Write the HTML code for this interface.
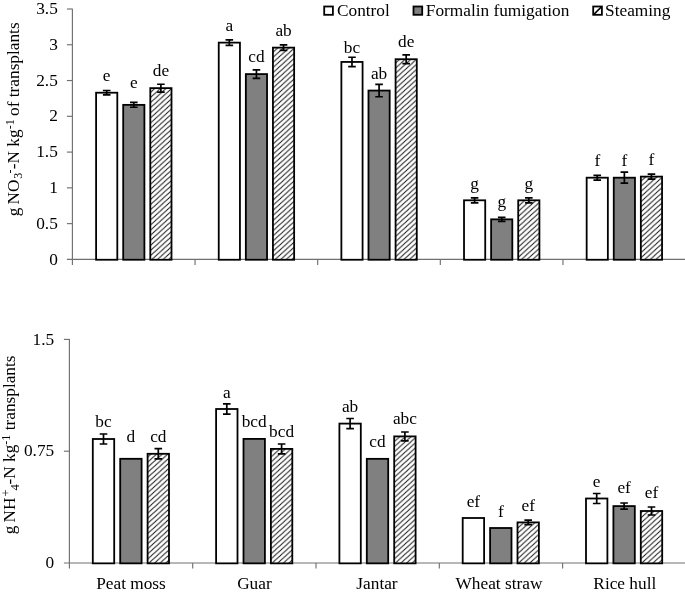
<!DOCTYPE html>
<html lang="en"><head><meta charset="utf-8"><title>Chart</title>
<style>html,body{margin:0;padding:0;background:#fff;overflow:hidden}svg{display:block;will-change:transform;opacity:.999}text{font-family:"Liberation Serif","Times New Roman",serif;font-size:17.3px;fill:#000}.ax{stroke:#707070;stroke-width:1.15;fill:none}.bar{stroke:#000;stroke-width:1.8}.eb{stroke:#000;stroke-width:1.7;fill:none}</style></head><body>
<svg width="685" height="594" viewBox="0 0 685 594">
<defs><pattern id="hatch" patternUnits="userSpaceOnUse" width="5.6" height="5.1"><rect width="5.6" height="5.1" fill="#fff"/><path d="M-5.6 10.2L11.2 -5.1M-5.6 5.1L5.6 -5.1M0 10.2L11.2 0" stroke="#111" stroke-width="1.0"/></pattern></defs>
<rect width="685" height="594" fill="#fff"/>
<path class="ax" d="M72.4 8.7V264.9"/>
<path class="ax" d="M66.9 259.4H685"/>
<text x="57.8" y="264.50" text-anchor="end">0</text>
<path class="ax" d="M66.9 223.63H72.4"/>
<text x="57.8" y="228.73" text-anchor="end">0.5</text>
<path class="ax" d="M66.9 187.86H72.4"/>
<text x="57.8" y="192.96" text-anchor="end">1</text>
<path class="ax" d="M66.9 152.09H72.4"/>
<text x="57.8" y="157.19" text-anchor="end">1.5</text>
<path class="ax" d="M66.9 116.31H72.4"/>
<text x="57.8" y="121.41" text-anchor="end">2</text>
<path class="ax" d="M66.9 80.54H72.4"/>
<text x="57.8" y="85.64" text-anchor="end">2.5</text>
<path class="ax" d="M66.9 44.77H72.4"/>
<text x="57.8" y="49.87" text-anchor="end">3</text>
<path class="ax" d="M66.9 9.00H72.4"/>
<text x="57.8" y="14.10" text-anchor="end">3.5</text>
<path class="ax" d="M195.04 259.4V264.9"/>
<path class="ax" d="M317.68 259.4V264.9"/>
<path class="ax" d="M440.32 259.4V264.9"/>
<path class="ax" d="M562.96 259.4V264.9"/>
<rect class="bar" x="96.10" y="92.71" width="21.2" height="167.04" fill="#fff"/>
<path class="eb" d="M106.70 90.51V94.91M102.90 90.51h7.6M102.90 94.91h7.6"/>
<text x="106.70" y="80.6" text-anchor="middle">e</text>
<rect class="bar" x="123.20" y="104.87" width="21.2" height="154.88" fill="#808080"/>
<path class="eb" d="M133.80 102.47V107.27M130.00 102.47h7.6M130.00 107.27h7.6"/>
<text x="133.80" y="87.9" text-anchor="middle">e</text>
<rect class="bar" x="150.30" y="88.13" width="21.2" height="171.62" fill="url(#hatch)"/>
<path class="eb" d="M160.90 84.23V92.03M157.10 84.23h7.6M157.10 92.03h7.6"/>
<text x="160.90" y="76.4" text-anchor="middle">de</text>
<rect class="bar" x="218.74" y="42.63" width="21.2" height="217.12" fill="#fff"/>
<path class="eb" d="M229.34 39.93V45.33M225.54 39.93h7.6M225.54 45.33h7.6"/>
<text x="229.34" y="31" text-anchor="middle">a</text>
<rect class="bar" x="245.84" y="74.10" width="21.2" height="185.65" fill="#808080"/>
<path class="eb" d="M256.44 69.80V78.40M252.64 69.80h7.6M252.64 78.40h7.6"/>
<text x="256.44" y="61.6" text-anchor="middle">cd</text>
<rect class="bar" x="272.94" y="47.63" width="21.2" height="212.12" fill="url(#hatch)"/>
<path class="eb" d="M283.54 44.93V50.33M279.74 44.93h7.6M279.74 50.33h7.6"/>
<text x="283.54" y="35.6" text-anchor="middle">ab</text>
<rect class="bar" x="341.38" y="61.94" width="21.2" height="197.81" fill="#fff"/>
<path class="eb" d="M351.98 57.24V66.64M348.18 57.24h7.6M348.18 66.64h7.6"/>
<text x="351.98" y="53" text-anchor="middle">bc</text>
<rect class="bar" x="368.48" y="90.56" width="21.2" height="169.19" fill="#808080"/>
<path class="eb" d="M379.08 84.36V96.76M375.28 84.36h7.6M375.28 96.76h7.6"/>
<text x="379.08" y="78.5" text-anchor="middle">ab</text>
<rect class="bar" x="395.58" y="59.22" width="21.2" height="200.53" fill="url(#hatch)"/>
<path class="eb" d="M406.18 54.82V63.62M402.38 54.82h7.6M402.38 63.62h7.6"/>
<text x="406.18" y="47" text-anchor="middle">de</text>
<rect class="bar" x="464.02" y="200.31" width="21.2" height="59.44" fill="#fff"/>
<path class="eb" d="M474.62 197.81V202.81M470.82 197.81h7.6M470.82 202.81h7.6"/>
<text x="474.62" y="189" text-anchor="middle">g</text>
<rect class="bar" x="491.12" y="219.34" width="21.2" height="40.41" fill="#808080"/>
<path class="eb" d="M501.72 217.34V221.34M497.92 217.34h7.6M497.92 221.34h7.6"/>
<text x="501.72" y="207" text-anchor="middle">g</text>
<rect class="bar" x="518.22" y="200.31" width="21.2" height="59.44" fill="url(#hatch)"/>
<path class="eb" d="M528.82 197.81V202.81M525.02 197.81h7.6M525.02 202.81h7.6"/>
<text x="528.82" y="189" text-anchor="middle">g</text>
<rect class="bar" x="586.66" y="177.70" width="21.2" height="82.05" fill="#fff"/>
<path class="eb" d="M597.26 175.30V180.10M593.46 175.30h7.6M593.46 180.10h7.6"/>
<text x="597.26" y="166.2" text-anchor="middle">f</text>
<rect class="bar" x="613.76" y="177.70" width="21.2" height="82.05" fill="#808080"/>
<path class="eb" d="M624.36 172.20V183.20M620.56 172.20h7.6M620.56 183.20h7.6"/>
<text x="624.36" y="166.2" text-anchor="middle">f</text>
<rect class="bar" x="640.86" y="176.62" width="21.2" height="83.13" fill="url(#hatch)"/>
<path class="eb" d="M651.46 174.12V179.12M647.66 174.12h7.6M647.66 179.12h7.6"/>
<text x="651.46" y="165.2" text-anchor="middle">f</text>
<path class="ax" d="M69.4 339.0V568.5"/>
<path class="ax" d="M63.900000000000006 563.0H685"/>
<text x="54.2" y="568.10" text-anchor="end">0</text>
<path class="ax" d="M63.900000000000006 451.20H69.4"/>
<text x="54.2" y="456.30" text-anchor="end">0.75</text>
<path class="ax" d="M63.900000000000006 339.40H69.4"/>
<text x="54.2" y="344.50" text-anchor="end">1.5</text>
<path class="ax" d="M192.70 563.0V568.5"/>
<path class="ax" d="M316.00 563.0V568.5"/>
<path class="ax" d="M439.30 563.0V568.5"/>
<path class="ax" d="M562.60 563.0V568.5"/>
<rect class="bar" x="92.80" y="439.00" width="21.4" height="124.35" fill="#fff"/>
<path class="eb" d="M103.50 434.00V444.00M99.70 434.00h7.6M99.70 444.00h7.6"/>
<text x="103.50" y="427" text-anchor="middle">bc</text>
<rect class="bar" x="120.20" y="458.80" width="21.4" height="104.55" fill="#808080"/>
<text x="130.90" y="442" text-anchor="middle">d</text>
<rect class="bar" x="147.60" y="453.80" width="21.4" height="109.55" fill="url(#hatch)"/>
<path class="eb" d="M158.30 448.70V458.90M154.50 448.70h7.6M154.50 458.90h7.6"/>
<text x="158.30" y="442.3" text-anchor="middle">cd</text>
<rect class="bar" x="216.10" y="409.00" width="21.4" height="154.35" fill="#fff"/>
<path class="eb" d="M226.80 403.80V414.20M223.00 403.80h7.6M223.00 414.20h7.6"/>
<text x="226.80" y="397.6" text-anchor="middle">a</text>
<rect class="bar" x="243.50" y="438.90" width="21.4" height="124.45" fill="#808080"/>
<text x="254.20" y="426.8" text-anchor="middle">bcd</text>
<rect class="bar" x="270.90" y="448.90" width="21.4" height="114.45" fill="url(#hatch)"/>
<path class="eb" d="M281.60 444.00V453.80M277.80 444.00h7.6M277.80 453.80h7.6"/>
<text x="281.60" y="436.8" text-anchor="middle">bcd</text>
<rect class="bar" x="339.40" y="423.60" width="21.4" height="139.75" fill="#fff"/>
<path class="eb" d="M350.10 418.50V428.70M346.30 418.50h7.6M346.30 428.70h7.6"/>
<text x="350.10" y="412" text-anchor="middle">ab</text>
<rect class="bar" x="366.80" y="458.85" width="21.4" height="104.50" fill="#808080"/>
<text x="377.50" y="446.6" text-anchor="middle">cd</text>
<rect class="bar" x="394.20" y="436.40" width="21.4" height="126.95" fill="url(#hatch)"/>
<path class="eb" d="M404.90 432.00V440.80M401.10 432.00h7.6M401.10 440.80h7.6"/>
<text x="404.90" y="424" text-anchor="middle">abc</text>
<rect class="bar" x="462.70" y="518.00" width="21.4" height="45.35" fill="#fff"/>
<text x="473.40" y="506.5" text-anchor="middle">ef</text>
<rect class="bar" x="490.10" y="528.00" width="21.4" height="35.35" fill="#808080"/>
<text x="500.80" y="516.5" text-anchor="middle">f</text>
<rect class="bar" x="517.50" y="522.40" width="21.4" height="40.95" fill="url(#hatch)"/>
<path class="eb" d="M528.20 520.20V524.60M524.40 520.20h7.6M524.40 524.60h7.6"/>
<text x="528.20" y="510.8" text-anchor="middle">ef</text>
<rect class="bar" x="586.00" y="498.50" width="21.4" height="64.85" fill="#fff"/>
<path class="eb" d="M596.70 493.50V503.50M592.90 493.50h7.6M592.90 503.50h7.6"/>
<text x="596.70" y="486.6" text-anchor="middle">e</text>
<rect class="bar" x="613.40" y="506.10" width="21.4" height="57.25" fill="#808080"/>
<path class="eb" d="M624.10 503.00V509.20M620.30 503.00h7.6M620.30 509.20h7.6"/>
<text x="624.10" y="493.4" text-anchor="middle">ef</text>
<rect class="bar" x="640.80" y="511.00" width="21.4" height="52.35" fill="url(#hatch)"/>
<path class="eb" d="M651.50 507.00V515.00M647.70 507.00h7.6M647.70 515.00h7.6"/>
<text x="651.50" y="498" text-anchor="middle">ef</text>
<text x="131" y="588.7" text-anchor="middle">Peat moss</text>
<text x="254.4" y="588.7" text-anchor="middle">Guar</text>
<text x="377" y="588.7" text-anchor="middle">Jantar</text>
<text x="499" y="588.7" text-anchor="middle">Wheat straw</text>
<text x="624.8" y="588.7" text-anchor="middle">Rice hull</text>
<rect x="324.2" y="6.5" width="8.7" height="8.3" fill="#fff" stroke="#000" stroke-width="1.8"/>
<text x="337" y="16">Control</text>
<rect x="413.5" y="6.5" width="8.7" height="8.3" fill="#808080" stroke="#000" stroke-width="1.8"/>
<text x="425.8" y="16">Formalin fumigation</text>
<rect x="593.2" y="6.5" width="8.7" height="8.3" fill="#fff" stroke="#000" stroke-width="1.8"/>
<path d="M593.6 14.6L601.4 6.9" stroke="#000" stroke-width="1.5"/>
<text x="605.1" y="16">Steaming</text>
<text transform="translate(18.7 216.2) rotate(-90)">g <tspan x="11.8">NO</tspan><tspan font-size="12" x="37.5" dy="3.6">3</tspan><tspan font-size="12" x="42.8" dy="-8.6">-</tspan><tspan x="47" dy="5">-N kg</tspan><tspan font-size="12" dy="-4.6">-1</tspan><tspan dy="4.6" dx="-0.9"> of transplants</tspan></text>
<text transform="translate(14.6 534.2) rotate(-90)">g <tspan x="11.8">NH</tspan><tspan font-size="12.5" x="37.6" dy="-5">+</tspan><tspan font-size="12.5" x="43.8" dy="9.4">4</tspan><tspan x="49.7" dy="-4.4">-N kg</tspan><tspan font-size="12" dy="-4.6">-1</tspan><tspan dy="4.6"> transplants</tspan></text>
</svg></body></html>
